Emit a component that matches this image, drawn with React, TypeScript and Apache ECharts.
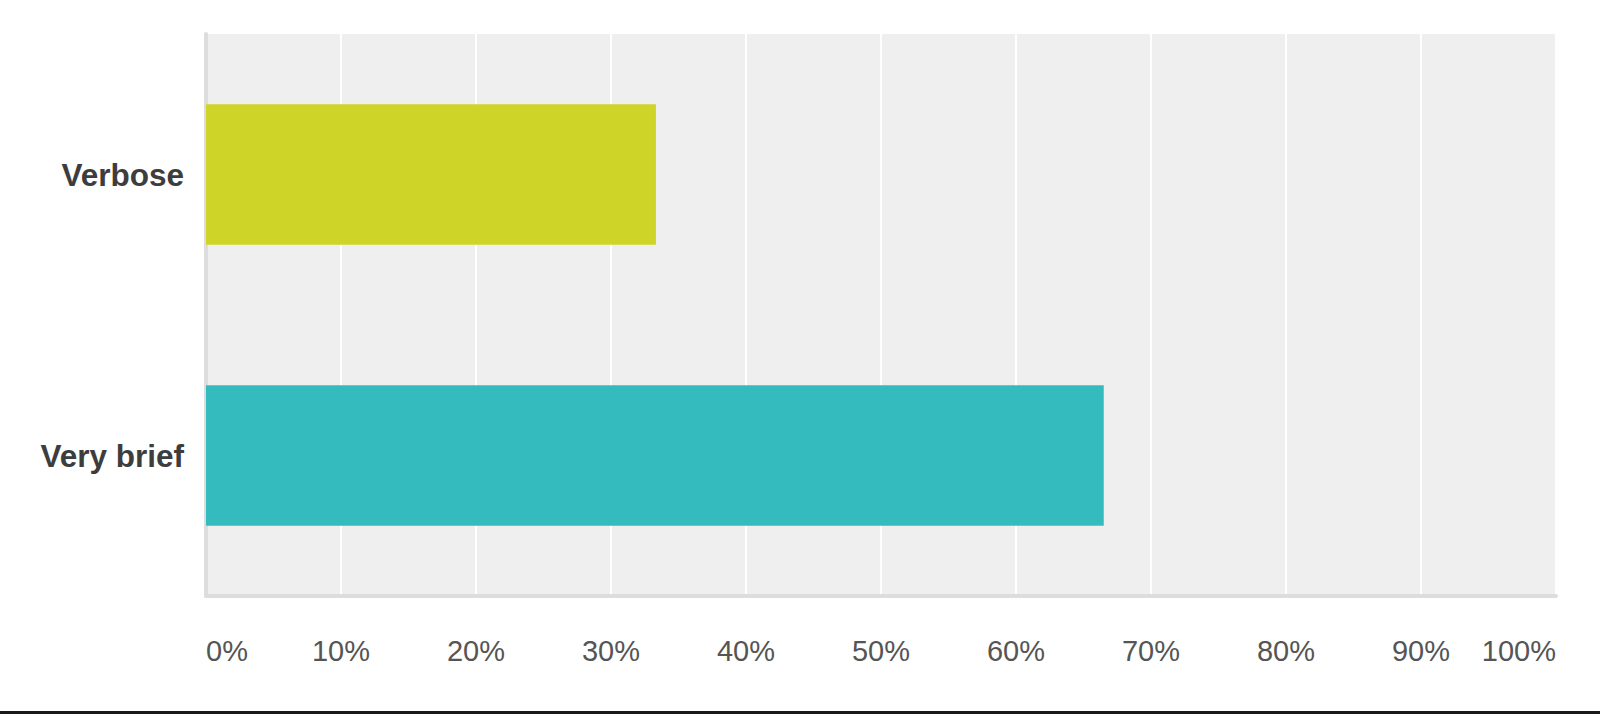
import React, { useEffect, useRef } from "react";
import * as echarts from "echarts";

const categories: string[] = ["Verbose", "Very brief"];
const values: number[] = [33.33, 66.5];
const barColors: string[] = ["#cfd428", "#33bbbe"];
const tickValues: number[] = [0, 10, 20, 30, 40, 50, 60, 70, 80, 90, 100];

export default function App() {
  const ref = useRef<HTMLDivElement>(null);

  useEffect(() => {
    document.body.style.margin = "0";
    const chart = echarts.init(ref.current!, null, { renderer: "svg" });
    chart.setOption({
      animation: false,
      backgroundColor: "#ffffff",
      grid: {
        left: 206,
        right: 44,
        top: 34,
        bottom: 118,
        show: true,
        backgroundColor: "#efefef",
        borderWidth: 0,
      },
      xAxis: {
        type: "value",
        min: tickValues[0],
        max: tickValues[tickValues.length - 1],
        interval: 10,
        axisLine: { show: true, lineStyle: { color: "#dddddd", width: 4 } },
        axisTick: { show: false },
        splitLine: { show: true, lineStyle: { color: "#ffffff", width: 2 } },
        axisLabel: {
          formatter: "{value}%",
          color: "#555555",
          fontFamily: "Liberation Sans, Arial, sans-serif",
          fontSize: 29,
          margin: 40,
          alignMinLabel: "left",
          alignMaxLabel: "right",
        },
      },
      yAxis: {
        type: "category",
        data: categories,
        inverse: true,
        axisLine: { show: true, lineStyle: { color: "#dddddd", width: 4 } },
        axisTick: { show: false },
        splitLine: { show: false },
        axisLabel: {
          color: "#3d3d3d",
          fontWeight: "bold",
          fontFamily: "Liberation Sans, Arial, sans-serif",
          fontSize: 31.5,
          margin: 22,
        },
      },
      series: [
        {
          type: "bar",
          barWidth: "50%",
          data: values.map((v, i) => ({ value: v, itemStyle: { color: barColors[i] } })),
        },
      ],
      graphic: [
        {
          type: "rect",
          left: 0,
          top: 711,
          shape: { width: 1600, height: 3 },
          style: { fill: "#1a1a1a" },
        },
      ],
    });
    return () => chart.dispose();
  }, []);

  return <div ref={ref} style={{ width: 1600, height: 714 }} />;
}
